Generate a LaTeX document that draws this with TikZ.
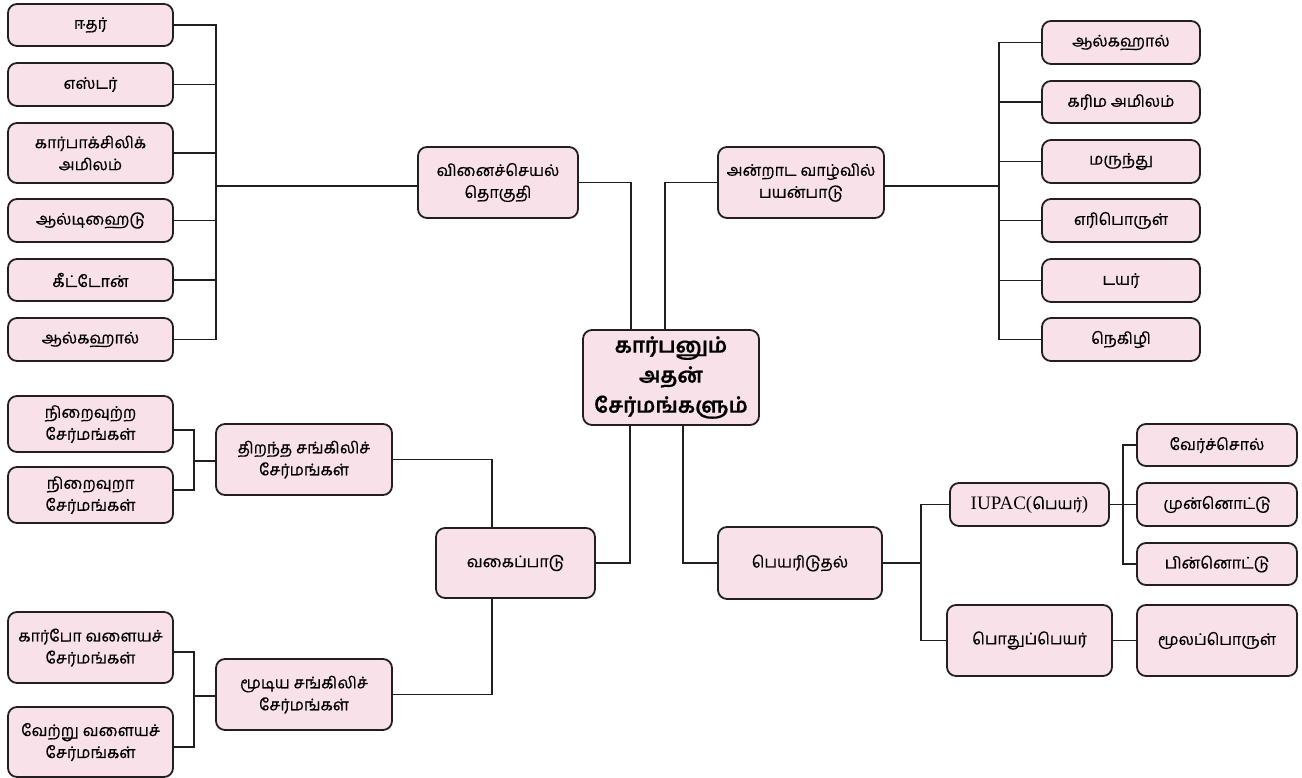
\documentclass[tikz,border=0pt]{standalone}
\usepackage{fontspec}
\setmainfont{Liberation Serif}
\newfontfamily\tamil[Script=Tamil,FakeBold=0.5]{Hind Madurai}
\newfontfamily\latinser{Liberation Serif}
\definecolor{pinkf}{RGB}{249,225,234}
\definecolor{linec}{RGB}{35,31,32}
\begin{document}
\begin{tikzpicture}[x=1pt,y=-1pt,
  box/.style={draw=linec, fill=pinkf, rounded corners=9pt, line width=1.8pt, align=center,
    font=\tamil\fontsize{16}{22}\selectfont, inner sep=2pt},
  bigbox/.style={box, font=\tamil\bfseries\fontsize{21}{30}\selectfont},
  conn/.style={draw=linec, line width=1.8pt}]
\useasboundingbox (0,0) rectangle (1302,778);

% centre
\node[bigbox, minimum width=176, minimum height=95] (cen) at (671,377.5) {கார்பனும்\\அதன்\\சேர்மங்களும்};

% top-left branch
\node[box, minimum width=160, minimum height=71] (vn) at (498,182.5) {வினைச்செயல்\\தொகுதி};
\node[box, minimum width=165, minimum height=42] (l1) at (90.5,25) {ஈதர்};
\node[box, minimum width=165, minimum height=43] (l2) at (90.5,84.5) {எஸ்டர்};
\node[box, minimum width=165, minimum height=60] (l3) at (90.5,153) {கார்பாக்சிலிக்\\அமிலம்};
\node[box, minimum width=165, minimum height=43] (l4) at (90.5,220.5) {ஆல்டிஹைடு};
\node[box, minimum width=165, minimum height=42] (l5) at (90.5,280) {கீட்டோன்};
\node[box, minimum width=165, minimum height=43] (l6) at (90.5,339.5) {ஆல்கஹால்};
\coordinate (busL) at (216,186);
\foreach \n in {l1,l2,l3,l4,l5,l6} \draw[conn] (\n.east) -| (busL);
\draw[conn] (busL) -- (busL -| vn.west);
\coordinate (cTL) at (631,330);
\draw[conn] (vn.east) -| (cTL);

% top-right branch
\node[box, minimum width=166, minimum height=71] (an) at (801,182.5) {அன்றாட வாழ்வில்\\பயன்பாடு};
\node[box, minimum width=158, minimum height=43] (r1) at (1121,42.5) {ஆல்கஹால்};
\node[box, minimum width=158, minimum height=42] (r2) at (1121,102) {கரிம அமிலம்};
\node[box, minimum width=158, minimum height=43] (r3) at (1121,161.5) {மருந்து};
\node[box, minimum width=158, minimum height=43] (r4) at (1121,220.5) {எரிபொருள்};
\node[box, minimum width=158, minimum height=43] (r5) at (1121,280.5) {டயர்};
\node[box, minimum width=158, minimum height=43] (r6) at (1121,339.5) {நெகிழி};
\coordinate (busR) at (999,186);
\foreach \n in {r1,r2,r3,r4,r5,r6} \draw[conn] (\n.west) -| (busR);
\draw[conn] (busR) -- (busR -| an.east);
\coordinate (cTR) at (665,330);
\draw[conn] (an.west) -| (cTR);

% bottom-left branch
\node[box, minimum width=159, minimum height=70] (vg) at (515.5,563) {வகைப்பாடு};
\node[box, minimum width=176, minimum height=71] (ot) at (304,459.5) {திறந்த சங்கிலிச்\\சேர்மங்கள்};
\node[box, minimum width=176, minimum height=71] (ct) at (304,694.5) {மூடிய சங்கிலிச்\\சேர்மங்கள்};
\node[box, minimum width=165, minimum height=56] (b1) at (90.5,424) {நிறைவுற்ற\\சேர்மங்கள்};
\node[box, minimum width=165, minimum height=56] (b2) at (90.5,495) {நிறைவுறா\\சேர்மங்கள்};
\node[box, minimum width=165, minimum height=71] (b3) at (90.5,647.5) {கார்போ வளையச்\\சேர்மங்கள்};
\node[box, minimum width=165, minimum height=70] (b4) at (90.5,742) {வேற்று வளையச்\\சேர்மங்கள்};
\coordinate (busB1) at (194,461);
\coordinate (busB2) at (194,696);
\draw[conn] ([yshift=-6pt]b1.east) -| (busB1);
\draw[conn] ([yshift=5pt]b2.east) -| (busB1);
\draw[conn] (busB1) -- (busB1 -| ot.west);
\draw[conn] ([yshift=-4.5pt]b3.east) -| (busB2);
\draw[conn] ([yshift=-5pt]b4.east) -| (busB2);
\draw[conn] (busB2) -- (busB2 -| ct.west);
\coordinate (vgT) at (492,528);
\coordinate (vgB) at (492,598);
\draw[conn] (ot.east) -| (vgT);
\draw[conn] (ct.east) -| (vgB);
\coordinate (cBL) at (630,425);
\draw[conn] (vg.east) -| (cBL);

% bottom-right branch
\node[box, minimum width=164, minimum height=72] (pe) at (800,563) {பெயரிடுதல்};
\coordinate (cBR) at (683,425);
\draw[conn] (pe.west) -| (cBR);
\node[box, minimum width=159, minimum height=43] (iu) at (1029.5,504.5) {{\latinser\fontsize{19}{22}\selectfont IUPAC(}பெயர்{\latinser\fontsize{19}{22}\selectfont )}};
\node[box, minimum width=165, minimum height=71] (po) at (1029.5,640.5) {பொதுப்பெயர்};
\coordinate (busP) at (921,563);
\draw[conn] (iu.west) -| (busP);
\draw[conn] (po.west) -| (busP);
\draw[conn] (pe.east) -- (busP);
\node[box, minimum width=160, minimum height=42] (s1) at (1217,445) {வேர்ச்சொல்};
\node[box, minimum width=160, minimum height=43] (s2) at (1217,504.5) {முன்னொட்டு};
\node[box, minimum width=160, minimum height=42] (s3) at (1217,564) {பின்னொட்டு};
\node[box, minimum width=160, minimum height=71] (s4) at (1217,640.5) {மூலப்பொருள்};
\coordinate (busI) at (1123,504.5);
\draw[conn] (s1.west) -| (busI);
\draw[conn] (s3.west) -| (busI);
\draw[conn] (iu.east) -- (s2.west);
\draw[conn] (po.east) -- (s4.west);
\end{tikzpicture}
\end{document}
